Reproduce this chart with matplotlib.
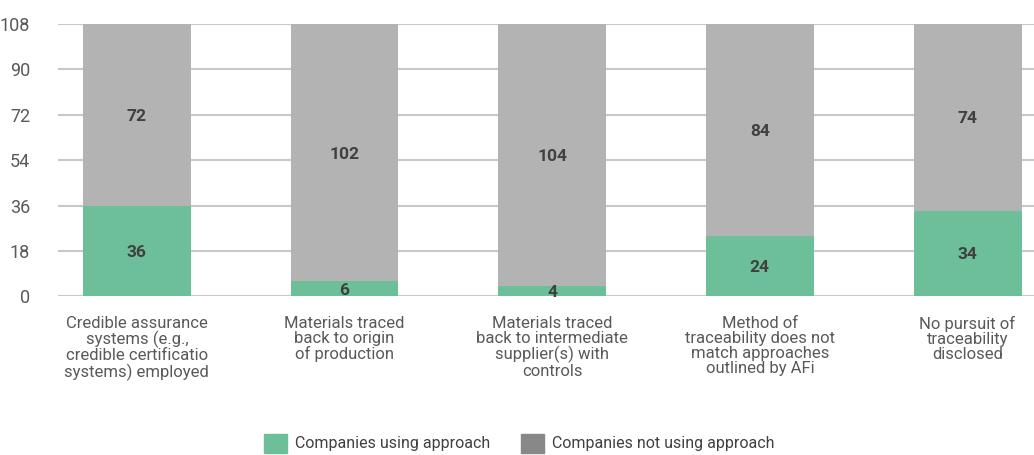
import matplotlib
matplotlib.use('Agg')
import matplotlib.pyplot as plt
from matplotlib.patches import Patch

plt.rcParams['font.family'] = ['Roboto', 'DejaVu Sans']

# data
categories = [
    'Credible assurance\nsystems (e.g.,\ncredible certificatio\nsystems) employed',
    'Materials traced\nback to origin\nof production',
    'Materials traced\nback to intermediate\nsupplier(s) with\ncontrols',
    'Method of\ntraceability does not\nmatch approaches\noutlined by AFi',
    'No pursuit of\ntraceability\ndisclosed',
]
using = [36, 6, 4, 24, 34]
not_using = [72, 102, 104, 84, 74]
yticks = [0, 18, 36, 54, 72, 90, 108]

green = '#6dbf9a'
grey = '#b3b3b3'
grey_legend = '#888888'
label_col = '#404040'
tick_col = '#595959'

fig = plt.figure(figsize=(10.34, 4.55), dpi=100)
ax = fig.add_axes([0.056, 0.349, 0.944, 0.598])

x = list(range(len(categories)))
w = 0.52
ax.bar(x, using, width=w, color=green, zorder=2)
ax.bar(x, not_using, width=w, bottom=using, color=grey, zorder=2)

for i in x:
    ax.text(i, using[i] / 2, str(using[i]), ha='center', va='center_baseline',
            fontsize=12.5, fontweight='bold', color=label_col, zorder=3)
    ax.text(i, using[i] + not_using[i] / 2, str(not_using[i]), ha='center',
            va='center_baseline', fontsize=12.5, fontweight='bold',
            color=label_col, zorder=3)

ax.set_ylim(0, 108)
ax.set_xlim(-0.38, 4.32)
ax.set_yticks(yticks)
ax.yaxis.grid(True, color='#c8c8c8', linewidth=1.5, zorder=0)
ax.set_axisbelow(True)
for s in ax.spines.values():
    s.set_visible(False)
ax.tick_params(axis='y', length=0, pad=20, labelsize=13, labelcolor=tick_col)
ax.set_xticks(x)
ax.set_xticklabels(categories, fontsize=12, color=tick_col, linespacing=1.02)
ax.tick_params(axis='x', length=0, pad=14)

handles = [Patch(color=green, label='Companies using approach'),
           Patch(color=grey_legend, label='Companies not using approach')]
fig.legend(handles=handles, loc='center left', ncol=2, frameon=False,
           bbox_to_anchor=(0.2553, 0.026), fontsize=11.5, handlelength=1.44,
           handleheight=1.44, handletextpad=0.5, columnspacing=1.9,
           labelcolor='#404040', borderpad=0, borderaxespad=0)

fig.savefig('out.png', dpi=100)
